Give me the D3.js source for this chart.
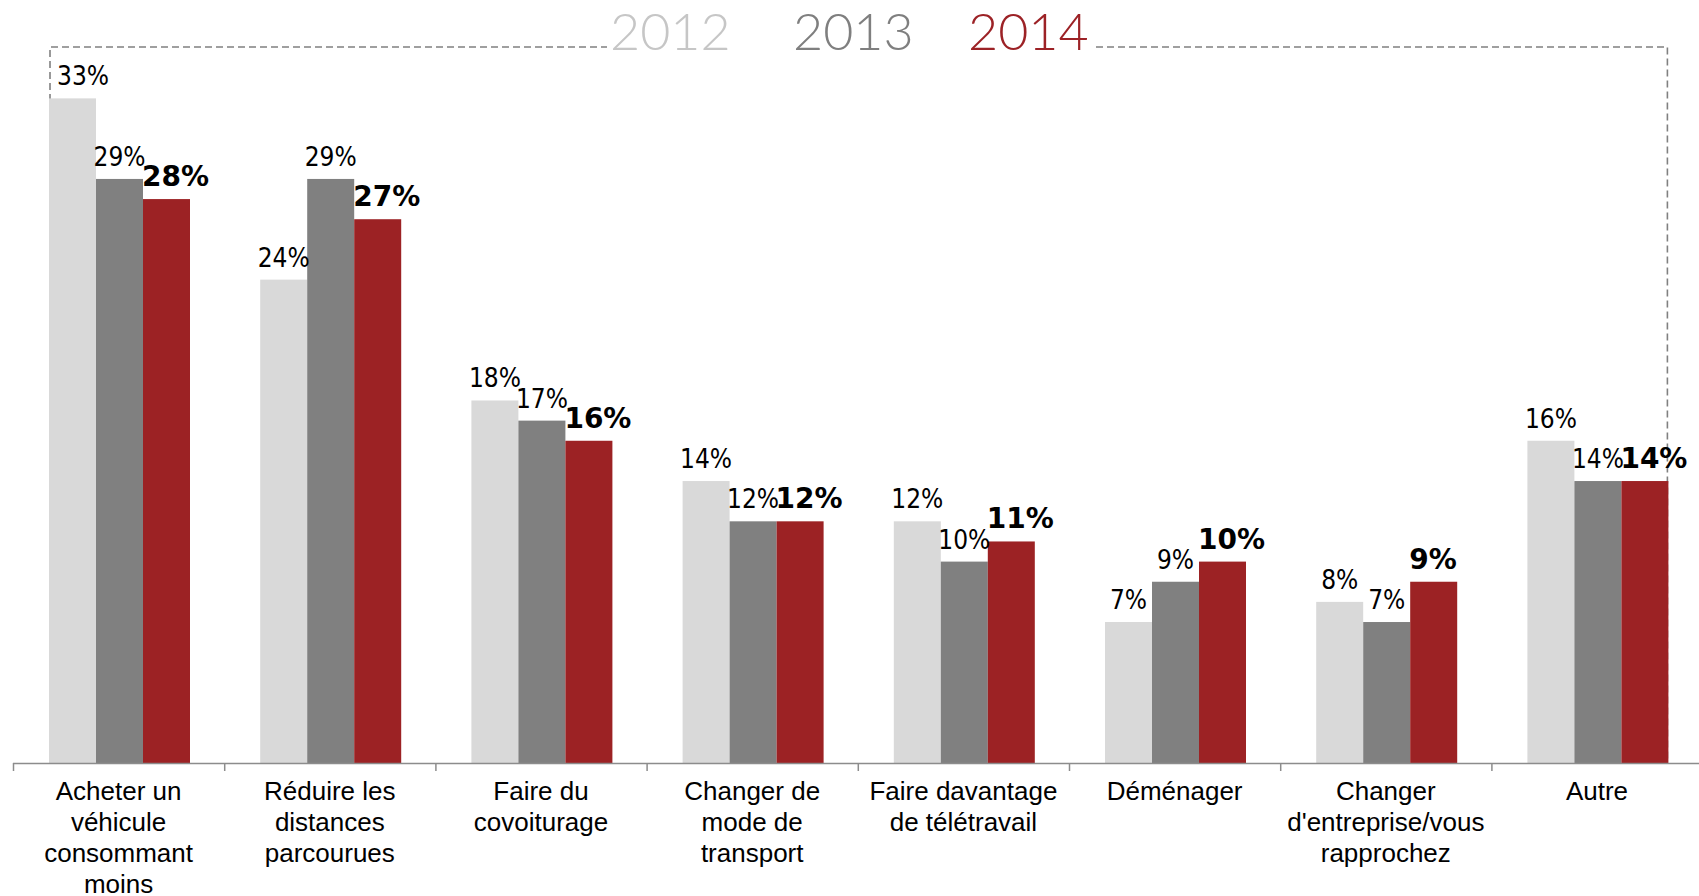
<!DOCTYPE html>
<html>
<head>
<meta charset="utf-8">
<script src="https://cdn.jsdelivr.net/npm/d3@7"></script>
<style>
  html, body { margin: 0; padding: 0; background: #fff; }
  svg { display: block; }
</style>
</head>
<body>
<div id="chart"></div>
<script>
"use strict";

// data
var categories = [
  ["Acheter un", "véhicule", "consommant", "moins"],
  ["Réduire les", "distances", "parcourues"],
  ["Faire du", "covoiturage"],
  ["Changer de", "mode de", "transport"],
  ["Faire davantage", "de télétravail"],
  ["Déménager"],
  ["Changer", "d'entreprise/vous", "rapprochez"],
  ["Autre"]
];
var years = ["2012", "2013", "2014"];
var values2012 = [33, 24, 18, 14, 12, 7, 8, 16];
var values2013 = [29, 29, 17, 12, 10, 9, 7, 14];
var values2014 = [28, 27, 16, 12, 11, 10, 9, 14];
var colors = ["#d9d9d9", "#808080", "#9c2224"];
var legendColors = ["#c6c6c6", "#7f7f7f", "#9c2226"];

var W = 1699, H = 896;
var baseY = 763;

var svg = d3.select("#chart").append("svg").attr("width", W).attr("height", H);

var rows = categories.map(function(c, i) {
  return { key: "c" + i, lines: c, vals: [values2012[i], values2013[i], values2014[i]] };
});

var x0 = d3.scaleBand().domain(rows.map(function(d) { return d.key; })).range([13, 13 + 8 * 211.2]);
var x1 = d3.scaleBand().domain(years).range([36, 177]);
var y = d3.scaleLinear().domain([0, 35]).range([baseY, baseY - 35 * 20.14]);

//dashed frame behind the bars (open at the bottom)
var fx0 = x0(rows[0].key) + x1("2012") + 1;
var fx1 = x0(rows[7].key) + x1("2014") + x1.bandwidth() - 1;
var fy0 = 47;
svg.append("path")
  .attr("d", "M" + fx0 + "," + (baseY - 2) + "V" + fy0 + "H" + fx1 + "V" + (baseY - 2))
  .attr("fill", "none")
  .attr("stroke", "#808080")
  .attr("stroke-width", 1.6)
  .attr("stroke-dasharray", "7,4");

// legend sits on the top edge of the frame
svg.append("rect")
  .attr("x", 607).attr("y", 15).attr("width", 488).attr("height", 45)
  .attr("fill", "#fff");

var legendX = [610, 793, 968];
svg.selectAll(".legend").data(years).enter().append("text")
  .attr("class", "legend")
  .attr("x", function(d, i) { return legendX[i]; })
  .attr("y", 50)
  .attr("fill", function(d, i) { return legendColors[i]; })
  .style("font-family", "Lato, 'DejaVu Sans', sans-serif")
  .style("font-weight", 300)
  .style("font-size", "52px")
  .text(function(d) { return d; });

var groups = svg.selectAll(".cat").data(rows).enter().append("g")
  .attr("class", "cat")
  .attr("transform", function(d) { return "translate(" + x0(d.key) + ",0)"; });

function barData(d) {
  return d.vals.map(function(v, i) { return { year: years[i], v: v, i: i, gx: x0(d.key) }; });
}

groups.selectAll("rect").data(barData).enter().append("rect")
  .attr("x", function(d) { return x1(d.year); })
  .attr("y", function(d) { return y(d.v); })
  .attr("width", x1.bandwidth())
  .attr("height", function(d) { return baseY - y(d.v); })
  .attr("fill", function(d) { return colors[d.i]; });

var vals = groups.selectAll("text.val").data(barData).enter().append("text")
  .attr("class", "val")
  .attr("y", function(d) { return y(d.v) - 13; })
  .style("font-family", function(d) {
    return d.i === 2 ? "'DejaVu Sans', sans-serif" : "'DejaVu Sans Condensed', 'DejaVu Sans', sans-serif";
  })
  .style("font-weight", function(d) { return d.i === 2 ? "bold" : "normal"; })
  .style("font-size", function(d) { return d.i === 2 ? "28px" : "26px"; })
  .attr("fill", "#000")
  .text(function(d) { return d.v + "%"; });

// 2014 labels start at the bar, others are centred but kept clear of the frame
vals.attr("x", function(d) {
  if (d.i === 2) return x1(d.year) - 1;
  var w = this.getComputedTextLength();
  var left = x1(d.year) + x1.bandwidth() / 2 - w / 2;
  return Math.max(left, fx0 - d.gx + 7);
});

// axis line and ticks on the category boundaries
var axis = svg.append("g").attr("class", "axis");
axis.append("line")
  .attr("x1", x0.range()[0]).attr("x2", W)
  .attr("y1", baseY + 0.5).attr("y2", baseY + 0.5)
  .attr("stroke", "#8c8c8c").attr("stroke-width", 1.5);
axis.selectAll(".tick").data(rows).enter().append("line")
  .attr("x1", function(d) { return x0(d.key) + 0.5; })
  .attr("x2", function(d) { return x0(d.key) + 0.5; })
  .attr("y1", baseY).attr("y2", baseY + 8)
  .attr("stroke", "#8c8c8c").attr("stroke-width", 1.5);

var labels = axis.selectAll(".label").data(rows).enter().append("text")
  .attr("class", "label")
  .attr("text-anchor", "middle")
  .style("font-family", "'Liberation Sans', Arial, sans-serif")
  .style("font-size", "26px")
  .attr("fill", "#000");

labels.selectAll("tspan").data(function(d) {
  return d.lines.map(function(l) { return { l: l, cx: x0(d.key) + x0.bandwidth() / 2 }; });
}).enter().append("tspan")
  .attr("x", function(d) { return d.cx; })
  .attr("y", function(d, i) { return 800 + i * 31; })
  .text(function(d) { return d.l; });
</script>
</body>
</html>
